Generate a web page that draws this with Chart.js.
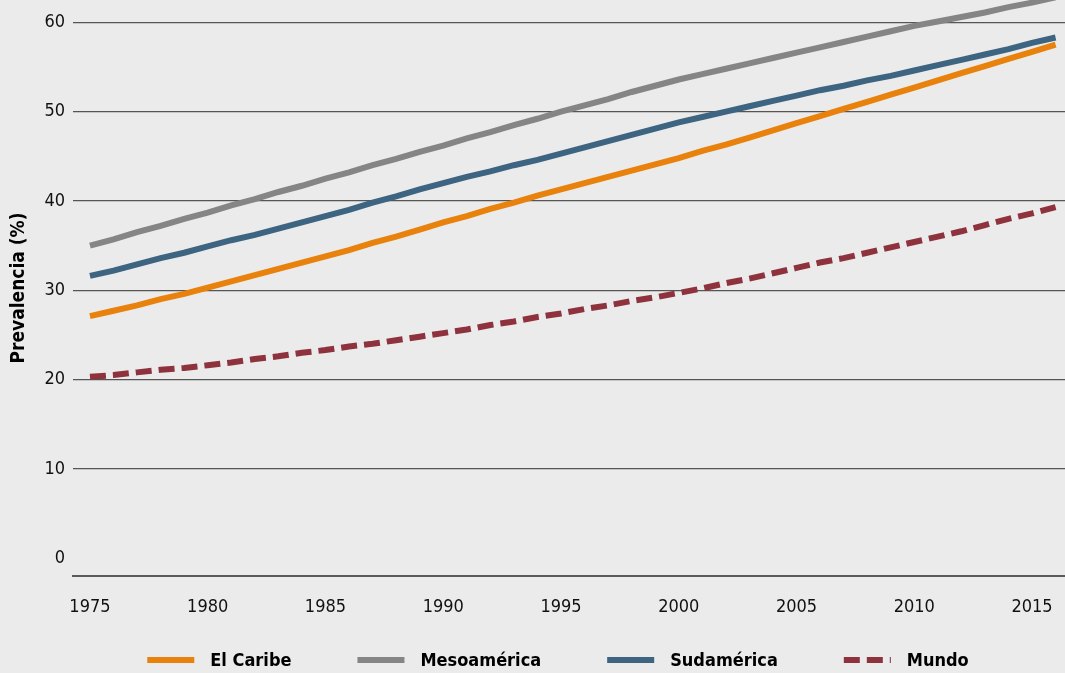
<!DOCTYPE html>
<html>
<head>
  <meta charset="utf-8">
  <title>Prevalencia</title>
  <script src="https://cdn.jsdelivr.net/npm/chart.js"></script>
  <style>
    body { margin: 0; background: #ebebeb; }
  </style>
</head>
<body>
  <canvas id="grafico" width="1065" height="673"></canvas>

  <script>
    // años 1975..2016
    var anios = [];
    for (var a = 1975; a <= 2016; a++) anios.push(a);

    var elCaribe = [27.1,27.7,28.3,29.0,29.6, 30.3,31.0,31.7,32.4,33.1, 33.8,34.5,35.3,36.0,36.8,
                    37.6,38.3,39.1,39.8,40.6, 41.3,42.0,42.7,43.4,44.1, 44.8,45.6,46.3,47.1,47.9,
                    48.7,49.5,50.3,51.1,51.9, 52.7,53.5,54.3,55.1,55.9,56.7,57.5];
    var mesoamerica = [35.0,35.7,36.5,37.2,38.0, 38.7,39.5,40.2,41.0,41.7, 42.5,43.2,44.0,44.7,45.5,
                       46.2,47.0,47.7,48.5,49.2, 50.0,50.7,51.4,52.2,52.9, 53.6,54.2,54.8,55.4,56.0,
                       56.6,57.2,57.8,58.4,59.0, 59.6,60.1,60.6,61.1,61.7,62.2,62.8];
    var sudamerica = [31.6,32.2,32.9,33.6,34.2, 34.9,35.6,36.2,36.9,37.6, 38.3,39.0,39.8,40.5,41.3,
                      42.0,42.7,43.3,44.0,44.6, 45.3,46.0,46.7,47.4,48.1, 48.8,49.4,50.0,50.6,51.2,
                      51.8,52.4,52.9,53.5,54.0, 54.6,55.2,55.8,56.4,57.0,57.7,58.3];
    var mundo = [20.3,20.5,20.8,21.1,21.3, 21.6,21.9,22.3,22.6,23.0, 23.3,23.7,24.0,24.4,24.8,
                 25.2,25.6,26.1,26.5,27.0, 27.4,27.9,28.3,28.8,29.2, 29.7,30.2,30.8,31.3,31.9,
                 32.5,33.1,33.6,34.2,34.8, 35.4,36.0,36.6,37.3,38.0,38.6,39.3];

    var ticksX = [1975,1980,1985,1990,1995,2000,2005,2010,2015];
    var ticksY = [0,10,20,30,40,50,60];

    var fuente = "'DejaVu Sans Condensed', 'Liberation Sans Narrow', sans-serif";

    function serie(nombre, valores, color, dash) {
      return {
        label: nombre,
        data: valores.map(function(v, i) { return { x: anios[i], y: v }; }),
        borderColor: color,
        backgroundColor: color,
        borderWidth: 6,
        borderDash: dash || [],
        pointRadius: 0,
        tension: 0,
        fill: false
      };
    }

    // leyenda abajo, con más separación entre elementos que la de Chart.js
    var leyenda = {
      id: 'leyenda',
      afterDraw: function(chart) {
        var c = chart.ctx;
        var sets = chart.data.datasets;
        var muestra = 47, hueco = 16, sep = 66, y = 660;
        c.save();
        c.font = 'bold 18px ' + fuente;
        c.textBaseline = 'middle';
        var total = 0;
        sets.forEach(function(d, i) {
          total += muestra + hueco + c.measureText(d.label).width + (i ? sep : 0);
        });
        var x = 558 - total / 2;
        sets.forEach(function(d) {
          c.strokeStyle = d.borderColor;
          c.lineWidth = 6;
          c.setLineDash(d.borderDash);
          c.beginPath();
          c.moveTo(x, y);
          c.lineTo(x + muestra, y);
          c.stroke();
          c.setLineDash([]);
          c.fillStyle = '#000';
          c.fillText(d.label, x + muestra + hueco, y + 1);
          x += muestra + hueco + c.measureText(d.label).width + sep;
        });
        c.restore();
      }
    };

    var ctx = document.getElementById('grafico').getContext('2d');
    new Chart(ctx, {
      type: 'line',
      data: {
        datasets: [
          serie('El Caribe', elCaribe, '#e8820c'),
          serie('Mesoamérica', mesoamerica, '#858585'),
          serie('Sudamérica', sudamerica, '#3d6480'),
          serie('Mundo', mundo, '#8e323e', [16, 7])
        ]
      },
      plugins: [leyenda],
      options: {
        responsive: false,
        animation: false,
        layout: { padding: { left: 0, right: 0, top: 0, bottom: 45 } },
        plugins: {
          tooltip: { enabled: false },
          legend: { display: false }
        },
        scales: {
          x: {
            type: 'linear',
            min: 1974.28,
            max: 2016.4,
            afterBuildTicks: function(scale) {
              scale.ticks = ticksX.map(function(v) { return { value: v }; });
            },
            afterFit: function(scale) {
              scale.height = 52;
              scale.paddingLeft = 0;
              scale.paddingRight = 0;
            },
            grid: { display: false, drawTicks: false },
            border: { display: true, color: '#5a5a5a', width: 2 },
            ticks: {
              padding: 21,
              maxRotation: 0,
              color: '#111',
              font: { family: fuente, size: 18 },
              callback: function(v) { return String(v); }
            }
          },
          y: {
            min: -2,
            max: 62.5,
            afterBuildTicks: function(scale) {
              scale.ticks = ticksY.map(function(v) { return { value: v }; });
            },
            afterFit: function(scale) {
              scale.width = 73;
              scale.paddingTop = 0;
              scale.paddingBottom = 0;
            },
            grid: {
              drawTicks: false,
              color: function(c) { return c.tick && c.tick.value === 0 ? 'rgba(0,0,0,0)' : '#555'; },
              lineWidth: 1.3
            },
            border: { display: false },
            ticks: {
              padding: 8,
              color: '#111',
              font: { family: fuente, size: 18 }
            },
            title: {
              display: true,
              text: 'Prevalencia (%)',
              color: '#000',
              padding: { top: 8, bottom: 0 },
              font: { family: fuente, size: 19, weight: 'bold' }
            }
          }
        }
      }
    });
  </script>
</body>
</html>
